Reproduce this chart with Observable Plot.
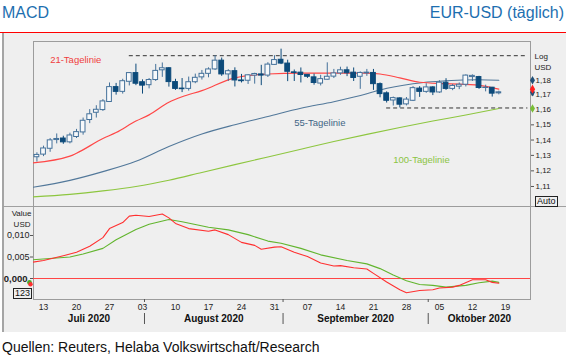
<!DOCTYPE html>
<html><head><meta charset="utf-8">
<script src="https://cdn.jsdelivr.net/npm/d3@7"></script>
<script src="https://cdn.jsdelivr.net/npm/@observablehq/plot@0.6"></script>
<style>
body{margin:0;background:#fff;font-family:"Liberation Sans",Arial,sans-serif;}
#wrap{position:relative;width:566px;height:358px;overflow:hidden;}
.abs{position:absolute;}
.box{position:absolute;border:1px solid #222;font-size:9px;line-height:9px;color:#111;padding:0 1px;background:#efefef;}
</style></head><body><div id="wrap">
<div class="abs" style="left:2px;top:4.5px;font-size:16px;line-height:1;color:#1d6fb0">MACD</div>
<div class="abs" style="right:2px;top:4.5px;font-size:16px;line-height:1;color:#1d6fb0">EUR-USD (täglich)</div>
<div class="abs" style="left:0;top:31.5px;width:566px;height:1.5px;background:#ff0000"></div>
<div class="abs" style="left:2px;top:33px;width:564px;height:299px;background:#efefef;border-left:2px solid #a5a5a5;box-sizing:border-box"></div>
<div id="top" class="abs" style="left:0;top:41px"></div>
<div class="abs" style="left:3px;top:206px;width:563px;height:1px;background:#a0a0a0"></div>
<div id="bot" class="abs" style="left:0;top:206px"></div>
<div class="box" style="left:535px;top:196px">Auto</div>
<div class="box" style="left:13px;top:288px">123</div>
<div class="abs" style="left:2px;top:339.5px;font-size:14px;line-height:1;color:#111">Quellen: Reuters, Helaba Volkswirtschaft/Research</div>
</div>
<script>
// ---------- data ----------
const candleDates = [
"2020-07-10","2020-07-13","2020-07-14","2020-07-15","2020-07-16","2020-07-17",
"2020-07-20","2020-07-21","2020-07-22","2020-07-23","2020-07-24",
"2020-07-27","2020-07-28","2020-07-29","2020-07-30","2020-07-31",
"2020-08-03","2020-08-04","2020-08-05","2020-08-06","2020-08-07",
"2020-08-10","2020-08-11","2020-08-12","2020-08-13","2020-08-14",
"2020-08-17","2020-08-18","2020-08-19","2020-08-20","2020-08-21",
"2020-08-24","2020-08-25","2020-08-26","2020-08-27","2020-08-28",
"2020-08-31","2020-09-01","2020-09-02","2020-09-03","2020-09-04",
"2020-09-07","2020-09-08","2020-09-09","2020-09-10","2020-09-11",
"2020-09-14","2020-09-15","2020-09-16","2020-09-17","2020-09-18",
"2020-09-21","2020-09-22","2020-09-23","2020-09-24","2020-09-25",
"2020-09-28","2020-09-29","2020-09-30","2020-10-01","2020-10-02",
"2020-10-05","2020-10-06","2020-10-07","2020-10-08","2020-10-09",
"2020-10-12","2020-10-13","2020-10-14","2020-10-15","2020-10-16"];
const opens = [
1.1288,1.1305,1.1343,1.1400,1.1410,1.1385,
1.1420,1.1450,1.1532,1.1580,1.1598,
1.1652,1.1752,1.1720,1.1788,1.1847,
1.1785,1.1765,1.1800,1.1866,1.1880,
1.1786,1.1742,1.1740,1.1785,1.1818,
1.1842,1.1872,1.1932,1.1838,1.1860,
1.1797,1.1795,1.1830,1.1838,1.1830,
1.1903,1.1938,1.1912,1.1852,1.1850,
1.1835,1.1818,1.1776,1.1802,1.1823,
1.1845,1.1866,1.1850,1.1822,1.1845,
1.1848,1.1772,1.1710,1.1662,1.1676,
1.1636,1.1660,1.1742,1.1720,1.1750,
1.1716,1.1782,1.1740,1.1755,1.1768,
1.1820,1.1820,1.1746,1.1748,1.1710];
const highs = [
1.1317,1.1360,1.1410,1.1440,1.1425,1.1445,
1.1470,1.1545,1.1601,1.1627,1.1668,
1.1780,1.1777,1.1805,1.1850,1.1908,
1.1801,1.1810,1.1906,1.1916,1.1885,
1.1805,1.1810,1.1820,1.1840,1.1865,
1.1883,1.1966,1.1950,1.1870,1.1883,
1.1838,1.1836,1.1846,1.1900,1.1918,
1.1966,1.2011,1.1935,1.1868,1.1882,
1.1837,1.1840,1.1832,1.1917,1.1872,
1.1887,1.1888,1.1882,1.1855,1.1872,
1.1872,1.1780,1.1720,1.1685,1.1680,
1.1682,1.1755,1.1755,1.1775,1.1755,
1.1795,1.1809,1.1770,1.1780,1.1835,
1.1835,1.1825,1.1765,1.1750,1.1725];
const lows = [
1.1257,1.1292,1.1320,1.1375,1.1372,1.1375,
1.1410,1.1432,1.1508,1.1545,1.1589,
1.1650,1.1698,1.1705,1.1760,1.1762,
1.1705,1.1740,1.1790,1.1818,1.1752,
1.1730,1.1715,1.1725,1.1775,1.1800,
1.1815,1.1865,1.1825,1.1790,1.1753,
1.1780,1.1770,1.1772,1.1762,1.1817,
1.1900,1.1905,1.1789,1.1790,1.1780,
1.1811,1.1765,1.1760,1.1800,1.1810,
1.1832,1.1823,1.1790,1.1737,1.1825,
1.1730,1.1680,1.1645,1.1625,1.1612,
1.1626,1.1655,1.1683,1.1710,1.1695,
1.1710,1.1730,1.1728,1.1735,1.1753,
1.1790,1.1737,1.1720,1.1685,1.1700];
const closes = [
1.1303,1.1345,1.1398,1.1407,1.1385,1.1430,
1.1452,1.1527,1.1570,1.1600,1.1656,
1.1752,1.1720,1.1792,1.1847,1.1775,
1.1762,1.1800,1.1862,1.1880,1.1786,
1.1740,1.1738,1.1785,1.1815,1.1842,
1.1872,1.1932,1.1838,1.1860,1.1797,
1.1792,1.1832,1.1841,1.1830,1.1905,
1.1936,1.1912,1.1856,1.1848,1.1834,
1.1822,1.1780,1.1806,1.1822,1.1845,
1.1866,1.1846,1.1814,1.1848,1.1850,
1.1772,1.1705,1.1660,1.1678,1.1634,
1.1668,1.1745,1.1720,1.1750,1.1716,
1.1782,1.1740,1.1760,1.1768,1.1830,
1.1828,1.1746,1.1748,1.1708,1.1717];

const ma21Dates = ["2020-07-09","2020-07-17","2020-07-20","2020-07-24","2020-07-28","2020-07-31","2020-08-04","2020-08-07","2020-08-11","2020-08-14","2020-08-21","2020-08-28","2020-09-04","2020-09-11","2020-09-18","2020-09-22","2020-09-25","2020-09-30","2020-10-06","2020-10-13","2020-10-16"];
const ma21Values = [1.1250,1.1295,1.1314,1.1410,1.1449,1.1525,1.1566,1.1650,1.1687,1.1728,1.1815,1.1841,1.1847,1.1847,1.1847,1.1841,1.1815,1.1785,1.1775,1.1764,1.1738];
const ma55Dates = ["2020-07-09","2020-07-17","2020-07-24","2020-07-31","2020-08-07","2020-08-14","2020-08-21","2020-08-28","2020-09-04","2020-09-11","2020-09-18","2020-09-22","2020-09-29","2020-10-06","2020-10-13","2020-10-16"];
const ma55Values = [1.1092,1.1139,1.1195,1.1262,1.1358,1.1440,1.1501,1.1555,1.1610,1.1654,1.1707,1.1733,1.1775,1.1795,1.1802,1.1798];
const ma100Dates = ["2020-07-09","2020-07-17","2020-07-24","2020-07-31","2020-08-07","2020-08-14","2020-08-21","2020-08-28","2020-09-04","2020-09-11","2020-09-18","2020-09-25","2020-10-02","2020-10-09","2020-10-16"];
const ma100Values = [1.1033,1.1050,1.1072,1.1100,1.1140,1.1190,1.1240,1.1290,1.1340,1.1390,1.1437,1.1482,1.1525,1.1565,1.1608];

const levelFrom = ["2020-07-30","2020-09-23"];
const levelValues = [1.1966,1.1612];

const macdDates = ["2020-07-09","2020-07-13","2020-07-16","2020-07-20","2020-07-22","2020-07-24","2020-07-27","2020-07-29","2020-07-30","2020-07-31","2020-08-04","2020-08-06","2020-08-07","2020-08-10","2020-08-12","2020-08-17","2020-08-18","2020-08-20","2020-08-24","2020-08-26","2020-08-27","2020-08-31","2020-09-01","2020-09-03","2020-09-07","2020-09-09","2020-09-11","2020-09-14","2020-09-16","2020-09-18","2020-09-21","2020-09-23","2020-09-25","2020-09-28","2020-09-30","2020-10-02","2020-10-05","2020-10-07","2020-10-08","2020-10-12","2020-10-14","2020-10-15","2020-10-16"];
const macdValues = [0.0037,0.0042,0.0053,0.0061,0.0075,0.0095,0.0116,0.0130,0.0145,0.0147,0.0144,0.0150,0.0141,0.0128,0.0116,0.0110,0.0113,0.0102,0.0084,0.0077,0.0068,0.0073,0.0074,0.0061,0.0051,0.0036,0.0029,0.0030,0.0025,0.0022,0.0012,-0.0008,-0.0026,-0.0033,-0.0028,-0.0026,-0.0022,-0.0020,-0.0016,-0.0003,-0.0003,-0.0009,-0.0011];
const sigDates = ["2020-07-09","2020-07-17","2020-07-21","2020-07-24","2020-07-28","2020-07-31","2020-08-04","2020-08-07","2020-08-11","2020-08-17","2020-08-20","2020-08-25","2020-08-28","2020-09-01","2020-09-04","2020-09-09","2020-09-15","2020-09-18","2020-09-22","2020-09-24","2020-09-28","2020-09-30","2020-10-02","2020-10-06","2020-10-09","2020-10-13","2020-10-15","2020-10-16"];
const sigValues = [0.0043,0.0050,0.0057,0.0070,0.0090,0.0114,0.0126,0.0137,0.0132,0.0119,0.0113,0.0102,0.0087,0.0082,0.0070,0.0055,0.0042,0.0034,0.0023,0.0008,-0.0005,-0.0014,-0.0016,-0.0020,-0.0016,-0.0010,-0.0006,-0.0009];

const yTicks = [1.11,1.12,1.13,1.14,1.15,1.16,1.17,1.18];
const macdTicks = [0.005,0.010];
const xTickDates = ["2020-07-13","2020-07-20","2020-07-27","2020-08-03","2020-08-10","2020-08-17","2020-08-24","2020-08-31","2020-09-07","2020-09-14","2020-09-21","2020-09-28","2020-10-05","2020-10-12","2020-10-19"];
const xTickLabels = ["13","20","27","03","10","17","24","31","07","14","21","28","05","12","19"];
const monthStarts = ["2020-08-03","2020-09-01","2020-10-01"];
const monthNames = ["Juli 2020","August 2020","September 2020","Oktober 2020"];
const lineLabels = [
  {label:"21-Tagelinie", date:"2020-07-14", value:1.1940, color:"#f04040"},
  {label:"55-Tagelinie", date:"2020-09-03", value:1.1515, color:"#3f6585"},
  {label:"100-Tagelinie", date:"2020-09-24", value:1.1273, color:"#8cc443"}
];

// ---------- helpers ----------
const t0 = new Date("2020-07-10T00:00:00Z");
const isWd = d => d.getUTCDay() !== 0 && d.getUTCDay() !== 6;
function tIdx(s) {
  const d = new Date(s + "T00:00:00Z");
  return d >= t0 ? d3.utcDays(t0, d).filter(isWd).length : -d3.utcDays(d, t0).filter(isWd).length;
}
const xDomain = [-0.52, 74.8];
const candles = candleDates.map((d, i) => ({i: tIdx(d), open: opens[i], high: highs[i], low: lows[i], close: closes[i]}));
const up = candles.filter(c => c.close >= c.open);
const down = candles.filter(c => c.close < c.open);
const zip = (ds, vs) => ds.map((d, i) => ({i: tIdx(d), v: vs[i]}));
const levels = zip(levelFrom, levelValues);
const font = '"Liberation Sans", Arial, sans-serif';
const hollow = "#44719a", solid = "#0c4a7a";

const topChart = Plot.plot({
  width: 566, height: 165, marginLeft: 33, marginRight: 36, marginTop: 0, marginBottom: 0,
  style: {background: "transparent", fontFamily: font, fontSize: "8px", color: "#222", overflow: "visible"},
  x: {domain: xDomain, axis: null},
  y: {type: "log", domain: [1.0973, 1.2064]},
  color: {type: "identity"},
  marks: [
    Plot.frame({stroke: "#9c9c9c"}),
    Plot.ruleY(levels, {y: "v", x1: "i", x2: xDomain[1] - 0.4, stroke: "#333", strokeDasharray: "4,3"}),
    Plot.line(zip(ma100Dates, ma100Values), {x: "i", y: "v", stroke: "#8dc63f", strokeWidth: 1.1, curve: "monotone-x", clip: true}),
    Plot.line(zip(ma55Dates, ma55Values), {x: "i", y: "v", stroke: "#52789a", strokeWidth: 1.1, curve: "monotone-x", clip: true}),
    Plot.line(zip(ma21Dates, ma21Values), {x: "i", y: "v", stroke: "#ff4747", strokeWidth: 1.2, curve: "monotone-x", clip: true}),
    Plot.ruleX(up, {x: "i", y1: "low", y2: "high", stroke: hollow}),
    Plot.ruleX(down, {x: "i", y1: "low", y2: "high", stroke: solid}),
    Plot.rect(up, {x1: d => d.i - 0.36, x2: d => d.i + 0.36, y1: "open", y2: "close", fill: "#f7f9fb", stroke: hollow}),
    Plot.rect(down, {x1: d => d.i - 0.36, x2: d => d.i + 0.36, y1: "open", y2: "close", fill: solid, stroke: solid}),
    Plot.axisY(yTicks, {anchor: "right", tickSize: 3, tickPadding: 2, tickFormat: d => d.toFixed(2).replace(".", ","), fontSize: 8, label: null, stroke: "#555"}),
    Plot.text(["Log"], {frameAnchor: "top-right", dx: 4, dy: 15, textAnchor: "start", lineAnchor: "middle", fontSize: 8}),
    Plot.text(["USD"], {frameAnchor: "top-right", dx: 4, dy: 26, textAnchor: "start", lineAnchor: "middle", fontSize: 8}),
    ...lineLabels.map(l => Plot.text([l], {x: d => tIdx(d.date), y: "value", text: "label", fill: l.color, textAnchor: "start", fontSize: 9.5})),
    Plot.dot([{v: ma55Values.at(-1)}, {v: closes.at(-1)}], {y: "v", frameAnchor: "right", dx: 2, r: 2.6, symbol: "diamond", fill: "#1f4f78"}),
    Plot.dot([{v: ma21Values.at(-1)}], {y: "v", frameAnchor: "right", dx: 2, r: 2.8, symbol: "diamond", fill: "#ff1f1f"}),
    Plot.dot([{v: ma100Values.at(-1)}], {y: "v", frameAnchor: "right", dx: 2, r: 2.6, symbol: "diamond", fill: "#78bd35"})
  ]
});
document.getElementById("top").appendChild(topChart);

const sepX = monthStarts.map(d => tIdx(d) + 0.3);
const bounds = [xDomain[0], ...sepX, xDomain[1]];
const botChart = Plot.plot({
  width: 566, height: 126, marginLeft: 33, marginRight: 36, marginTop: 0, marginBottom: 33,
  style: {background: "transparent", fontFamily: font, fontSize: "9px", color: "#222", overflow: "visible"},
  x: {domain: xDomain},
  y: {domain: [-0.00488, 0.01674]},
  color: {type: "identity"},
  marks: [
    Plot.frame({stroke: "#9c9c9c"}),
    Plot.ruleY([0], {stroke: "#ff4545", strokeWidth: 1.2}),
    Plot.line(zip(sigDates, sigValues), {x: "i", y: "v", stroke: "#62b52e", strokeWidth: 1.1, clip: true}),
    Plot.line(zip(macdDates, macdValues), {x: "i", y: "v", stroke: "#ff3030", strokeWidth: 1.1, clip: true}),
    Plot.axisY(macdTicks, {anchor: "left", tickSize: 3, tickPadding: 1, tickFormat: d => d.toFixed(3).replace(".", ","), fontSize: 9, label: null, stroke: "#555"}),
    Plot.axisY([0], {anchor: "left", tickSize: 3, tickPadding: 3, tickFormat: d => d.toFixed(3).replace(".", ","), fontSize: 9.5, fontWeight: "bold", label: null, stroke: "#555"}),
    Plot.text(["Value"], {frameAnchor: "top-left", dx: -2, dy: 7, textAnchor: "end", lineAnchor: "middle", fontSize: 8}),
    Plot.text(["USD"], {frameAnchor: "top-left", dx: -3, dy: 18, textAnchor: "end", lineAnchor: "middle", fontSize: 8}),
    Plot.text(xTickDates, {x: d => tIdx(d), text: (d, i) => xTickLabels[i], frameAnchor: "bottom", dy: 8, lineAnchor: "middle", fontSize: 8.5}),
    Plot.axisX(sepX, {tickSize: 3, tickFormat: () => "", label: null, stroke: "#555"}),
    Plot.axisX(sepX, {tickSize: 11, dy: 14, tickFormat: () => "", label: null, stroke: "#555"}),
    Plot.text(monthNames, {x: (d, i) => (bounds[i] + bounds[i + 1]) / 2, frameAnchor: "bottom", dy: 19, lineAnchor: "middle", fontWeight: "bold", fontSize: 10, fill: "#111"}),
    Plot.dot([{v: sigValues.at(-1)}], {y: "v", frameAnchor: "left", dx: -4, r: 2.4, fill: "#4aa82a"}),
    Plot.dot([{v: macdValues.at(-1)}], {y: "v", frameAnchor: "left", dx: -3, dy: 1, r: 2.2, fill: "#ff3030"})
  ]
});
document.getElementById("bot").appendChild(botChart);
</script>
</body></html>
